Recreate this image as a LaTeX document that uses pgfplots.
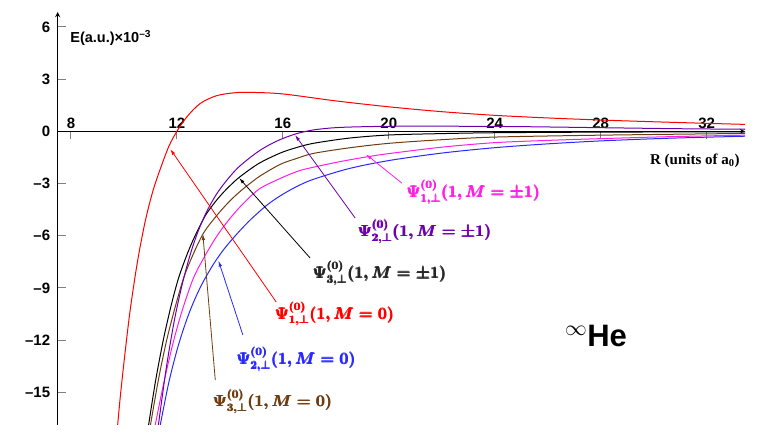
\RequirePackage{fix-cm}
\documentclass[border=0pt]{standalone}
\usepackage{amsmath}
\usepackage[no-math]{fontspec}
\setsansfont{Liberation Sans}
\newfontfamily\timesf{Liberation Serif}
\usepackage{pgfplots}
\pgfplotsset{compat=1.18}
\usetikzlibrary{arrows.meta}
\definecolor{cred}{RGB}{255,0,0}
\definecolor{cblue}{RGB}{40,40,255}
\definecolor{cbrown}{RGB}{110,60,15}
\definecolor{cpink}{RGB}{255,30,230}
\definecolor{cpurple}{RGB}{110,0,170}
\newcommand{\lab}[1]{{\fontsize{16}{19}\selectfont\boldmath$\pmb{#1}$}}
\begin{document}
\begin{tikzpicture}[x=1pt,y=1pt]
\useasboundingbox (0,0) rectangle (763,436);
\begin{axis}[
  at={(57.7pt,11pt)}, anchor=south west, scale only axis,
  width=687.3pt, height=413pt,
  xmin=7.5, xmax=33.45, ymin=-16.88, ymax=6.86,
  axis x line=middle, axis y line=left,
  axis line style={line width=1.3pt},
  xtick={8,12,...,32}, ytick={-15,-12,...,6},
  yticklabels={–15,–12,–9,–6,–3,0,3,6},
  tick align=center, major tick length=8pt,
  tick style={line width=1pt, gray},
  xtick style={yshift=-4pt}, ytick style={xshift=4pt},
  ticklabel style={font=\fontsize{15}{18}\selectfont\sffamily\bfseries},
  /pgf/number format/assume math mode=true,
  xticklabel style={anchor=south, yshift=3pt},
  clip=true,
]
% red: Psi_1 M=0
\addplot[cred, line width=1pt, smooth] coordinates {
(9.76,-16.95) (9.90,-14.7) (10.20,-10.7) (10.50,-7.6) (10.80,-5.2) (11.10,-3.4)
(11.40,-2.05) (11.70,-0.85) (12.00,0) (12.38,0.84) (12.88,1.6) (13.50,2.05)
(14.20,2.22) (14.80,2.24) (16.00,2.15) (18.00,1.75) (20.00,1.41) (22.00,1.13)
(24.00,0.92) (26.00,0.77) (28.00,0.65) (30.00,0.55) (32.00,0.46) (33.45,0.40)};
% blue: Psi_2 M=0
\addplot[cblue, line width=1pt, smooth] coordinates {
(11.37,-16.9) (11.70,-14.4) (12.05,-12.33) (12.40,-10.7) (12.70,-9.57) (13.00,-8.63)
(13.40,-7.59) (13.80,-6.73) (14.30,-5.84) (14.80,-5.05) (15.40,-4.24) (15.90,-3.71)
(16.50,-3.19) (17.15,-2.76) (18.50,-2.14) (20.00,-1.68) (22.00,-1.25) (24.00,-0.94)
(26.00,-0.72) (28.00,-0.55) (30.50,-0.40) (33.45,-0.28)};
% pink: Psi_1 M=+-1
\addplot[cpink, line width=1pt, smooth] coordinates {
(11.18,-16.9) (11.50,-14.5) (11.85,-12.2) (12.20,-10.3) (12.62,-8.45) (13.00,-7.32)
(13.40,-6.28) (13.76,-5.48) (14.20,-4.65) (14.65,-3.93) (15.14,-3.28) (15.90,-2.71)
(16.65,-2.25) (17.50,-1.95) (18.30,-1.70) (19.20,-1.46) (20.00,-1.28) (22.00,-0.91)
(24.00,-0.65) (26.00,-0.52) (28.00,-0.42) (30.50,-0.31) (33.45,-0.22)};
% brown: Psi_3 M=0
\addplot[cbrown, line width=1pt, smooth] coordinates {
(11.00,-16.9) (11.30,-14.3) (11.60,-12.1) (11.90,-10.3) (12.25,-8.45) (12.60,-7.12)
(13.00,-5.86) (13.45,-4.94) (13.90,-4.16) (14.39,-3.45) (15.10,-2.61) (15.90,-1.90)
(16.50,-1.57) (17.15,-1.27) (18.50,-0.95) (20.00,-0.69) (22.00,-0.48) (24.00,-0.33)
(28.00,-0.22) (33.45,-0.12)};
% black: Psi_3 M=+-1
\addplot[black, line width=1pt, smooth] coordinates {
(10.93,-16.9) (11.20,-14.3) (11.50,-11.9) (11.80,-9.91) (12.06,-8.45) (12.35,-7.21)
(12.60,-6.29) (12.90,-5.34) (13.13,-4.71) (13.45,-4.05) (13.75,-3.52) (14.05,-3.06)
(14.39,-2.60) (15.10,-1.84) (15.90,-1.25) (16.50,-0.94) (17.15,-0.69) (18.50,-0.39)
(20.00,-0.21) (22.00,-0.13) (24.00,-0.08) (28.00,-0.045) (33.45,-0.025)};
% purple: Psi_2 M=+-1
\addplot[cpurple, line width=1pt, smooth] coordinates {
(11.30,-16.9) (11.60,-13.6) (11.90,-10.9) (12.20,-8.8) (12.50,-7.1) (12.80,-5.75)
(13.13,-4.6) (13.50,-3.6) (13.89,-2.8) (14.30,-2.1) (14.77,-1.5) (15.20,-1.03)
(15.65,-0.65) (16.10,-0.35) (16.60,-0.10) (17.15,0.08) (17.80,0.19) (18.40,0.24)
(19.50,0.28) (21.00,0.30) (23.00,0.29) (25.00,0.27) (28.00,0.21) (31.00,0.15) (33.45,0.12)};
% arrows
\draw[cred, line width=0.8pt, -{Latex[length=6pt,width=3.5pt]}] (axis cs:15.75,-9.81) -- (axis cs:11.75,-1.02);
\draw[cblue, line width=0.8pt, -{Latex[length=6pt,width=3.5pt]}] (axis cs:14.49,-11.7) -- (axis cs:13.57,-7.43);
\draw[cbrown, line width=0.8pt, -{Latex[length=6pt,width=3.5pt]}] (axis cs:13.45,-14.3) -- (axis cs:12.98,-5.9);
\draw[black, line width=0.8pt, -{Latex[length=6pt,width=3.5pt]}] (axis cs:17.03,-7.28) -- (axis cs:14.35,-2.68);
\draw[cpurple, line width=0.8pt, -{Latex[length=6pt,width=3.5pt]}] (axis cs:18.73,-4.98) -- (axis cs:16.46,-0.21);
\draw[cpink, line width=0.8pt, -{Latex[length=6pt,width=3.5pt]}] (axis cs:20.49,-2.97) -- (axis cs:19.14,-1.32);
% labels
\node[anchor=base west, inner sep=0, text=cpink] at (axis cs:20.68,-3.79) {\lab{\Psi^{(0)}_{1,\perp}(1,M=\pm1)}};
\node[anchor=base west, inner sep=0, text=cpurple] at (axis cs:18.84,-6.06) {\lab{\Psi^{(0)}_{2,\perp}(1,M=\pm1)}};
\node[anchor=base west, inner sep=0, text=black!85] at (axis cs:17.14,-8.45) {\lab{\Psi^{(0)}_{3,\perp}(1,M=\pm1)}};
\node[anchor=base west, inner sep=0, text=cred] at (axis cs:15.71,-10.79) {\lab{\Psi^{(0)}_{1,\perp}(1,M=0)}};
\node[anchor=base west, inner sep=0, text=cblue] at (axis cs:14.26,-13.39) {\lab{\Psi^{(0)}_{2,\perp}(1,M=0)}};
\node[anchor=base west, inner sep=0, text=cbrown] at (axis cs:13.37,-15.83) {\lab{\Psi^{(0)}_{3,\perp}(1,M=0)}};
\node[anchor=base west, inner sep=0] at (axis cs:26.65,-12.38) {\fontsize{31}{36}\selectfont\sffamily\bfseries$^{\infty}$He};
\node[anchor=base west, inner sep=0] at (axis cs:7.97,5.09) {\fontsize{14.5}{17}\selectfont\sffamily\bfseries E(a.u.)×10\textsuperscript{–3}};
\node[anchor=base west, inner sep=0] at (axis cs:29.86,-1.9) {\fontsize{15}{18}\selectfont\timesf\bfseries R (units of a\textsubscript{0})};
\end{axis}
\end{tikzpicture}
\end{document}
